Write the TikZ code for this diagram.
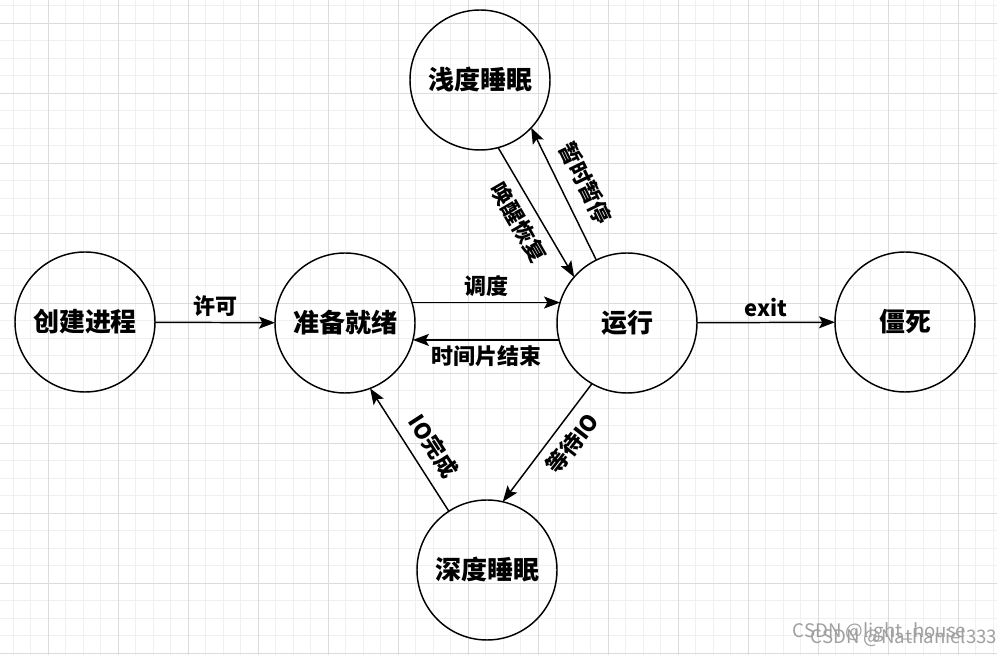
\documentclass[tikz,border=0pt]{standalone}
\usepackage{fontspec}
\setmainfont{Noto Sans CJK SC}
\usetikzlibrary{arrows.meta}
\definecolor{gridmajor}{RGB}{220,220,220}
\definecolor{gridminor}{RGB}{240,240,240}
\definecolor{markgray}{RGB}{160,160,160}

\begin{document}
\begin{tikzpicture}[x=0.75pt, y=-0.75pt,
    state/.style={draw, circle, line width=1.1pt, minimum size=105pt,
      inner sep=0pt, outer sep=0pt, font=\fontsize{19.5}{22}\selectfont\bfseries},
    trans/.style={line width=1.1pt, -{Stealth[length=12pt, width=9pt, inset=2.5pt]}},
    lbl/.style={font=\fontsize{16.5}{19}\selectfont\bfseries, inner sep=4pt}
    ]

    \useasboundingbox (0,0) rectangle (997,655);
    \fill[white] (0,0) rectangle (997,655);

    % background grid
    \foreach \i in {0,...,56}
      \draw[gridminor, line width=0.6pt] ({13+17.5*\i},0) -- ({13+17.5*\i},655);
    \foreach \j in {0,...,37}
      \draw[gridminor, line width=0.6pt] (0,{5.5+17.5*\j}) -- (997,{5.5+17.5*\j});
    \foreach \x in {48,118,...,998}
      \draw[gridmajor, line width=0.7pt] (\x,0) -- (\x,655);
    \foreach \y in {23,93,...,653}
      \draw[gridmajor, line width=0.7pt] (0,\y) -- (997,\y);

    % states
    \node[state] (create) at (85,322) {创建进程};
    \node[state] (ready) at (345,323) {准备就绪};
    \node[state] (run) at (627,323) {运行};
    \node[state] (dead) at (905,322) {僵死};
    \node[state] (light) at (480,80) {浅度睡眠};
    \node[state] (deep) at (487,570) {深度睡眠};

    % transitions
    \draw[trans] (create) -- node[lbl, above] {许可} (ready);
    \draw[trans] (ready.17) -- node[lbl, above] {调度} (run.163);
    \draw[trans] (run.194) -- node[lbl, below] {时间片结束} (ready.-14);
    \draw[trans] (run) -- node[lbl, above] {exit} (dead);
    \draw[trans] (light.-75) -- node[lbl, rotate=-60, below, inner sep=7pt] {唤醒恢复} (run.139);
    \draw[trans] (run.116) -- node[lbl, rotate=-64, above, inner sep=10pt] {暂时暂停} (light.-43);
    \draw[trans] (run.-120) -- node[lbl, pos=0.4, rotate=52, below, inner sep=7pt] {等待IO} (deep.77);
    \draw[trans] (deep.123) -- node[lbl, pos=0.43, rotate=-57, above, inner sep=8pt] {IO完成} (ready.-69);

    % watermark
    \node[anchor=west, text=markgray, font=\fontsize{14}{16}\selectfont] (mark1) at (788,632) {CSDN @light\_house};
    \node[anchor=west, text=markgray, font=\fontsize{14}{16}\selectfont] (mark2) at (806,638) {CSDN @Nathaniel333};

\end{tikzpicture}
\end{document}
